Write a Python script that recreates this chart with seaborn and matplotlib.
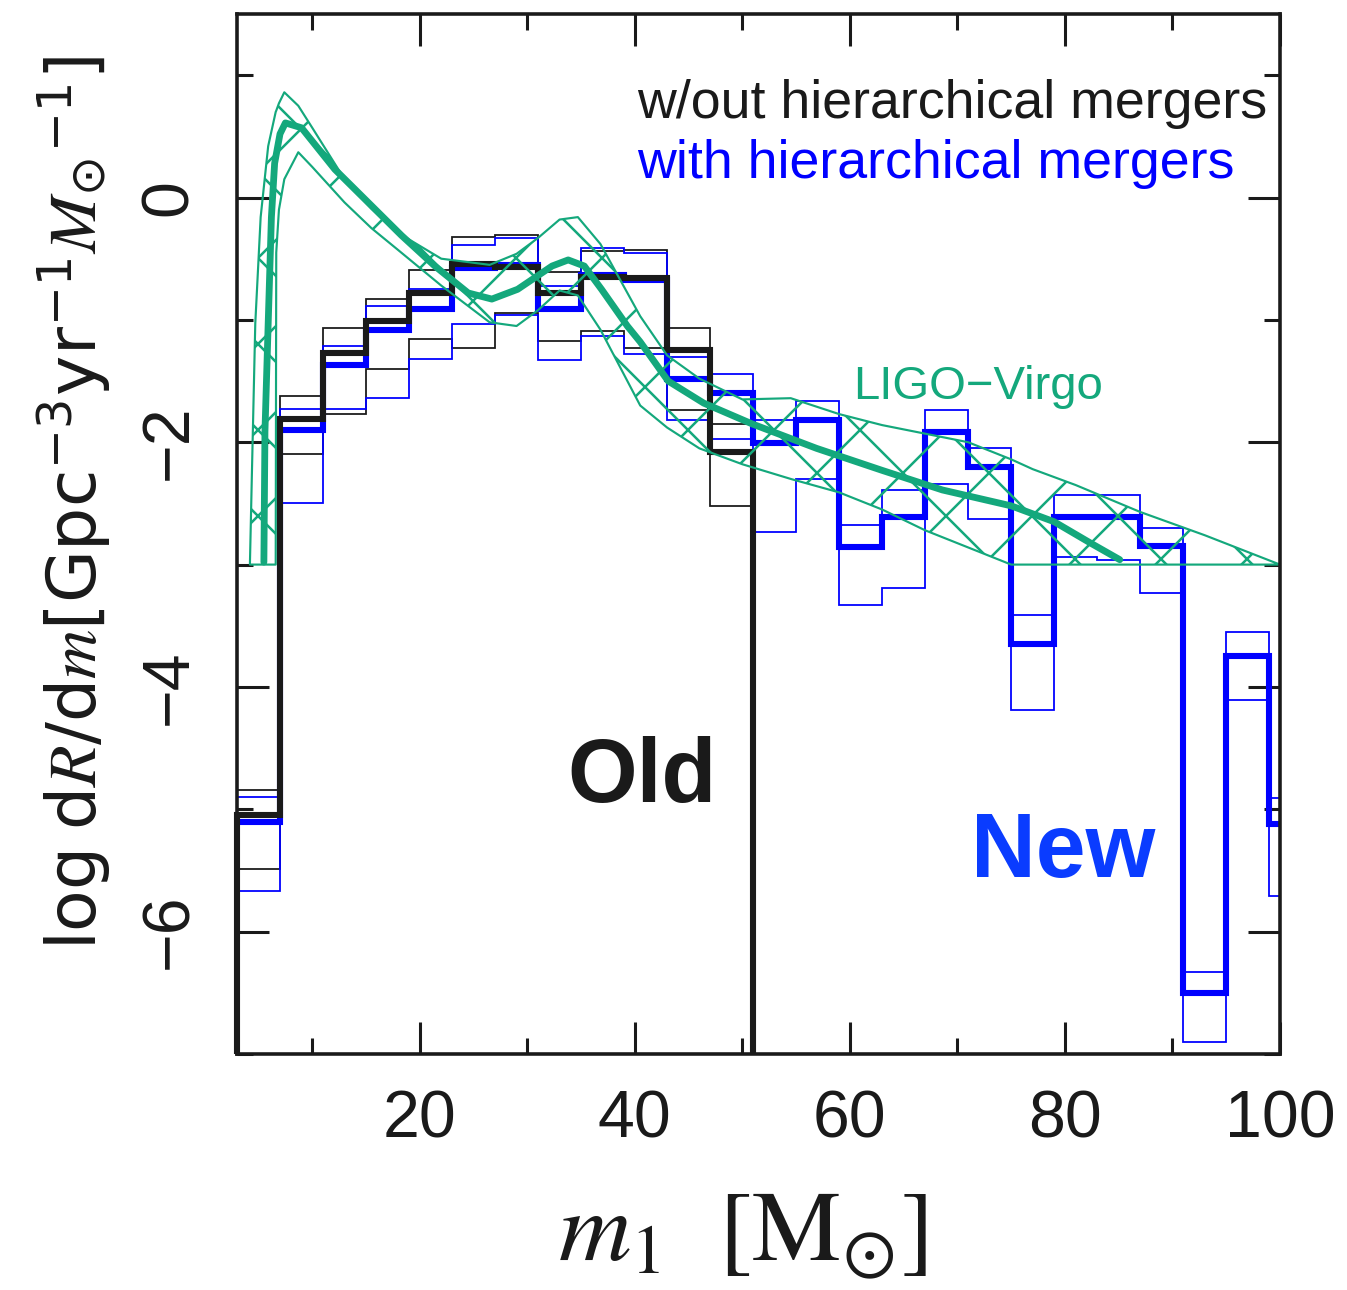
import matplotlib
matplotlib.use("Agg")
import matplotlib.pyplot as plt
import seaborn as sns
import pandas as pd
from matplotlib.ticker import MultipleLocator

# ---------------- data ----------------
bin_edges = [3, 7, 11, 15, 19, 23, 27, 31, 35, 39, 43, 47, 51, 55, 59, 63, 67,
             71, 75, 79, 83, 87, 91, 95, 99, 100]
old_edges = bin_edges[:13]

# without hierarchical mergers (black)
old_mid = [-5.05, -1.81, -1.27, -1.01, -0.78, -0.54, -0.57, -0.78, -0.65, -0.66, -1.25, -2.08]
old_hi = [-4.84, -1.62, -1.07, -0.83, -0.59, -0.32, -0.31, -0.61, -0.44, -0.43, -1.07, -1.85]
old_lo = [-5.49, -2.10, -1.77, -1.40, -1.16, -1.23, -0.94, -1.17, -1.09, -1.23, -1.74, -2.52]

# with hierarchical mergers (blue)
new_mid = [-5.10, -1.90, -1.37, -1.08, -0.91, -0.58, -0.55, -0.91, -0.63, -0.67, -1.48, -1.60,
           -2.01, -1.82, -2.86, -2.61, -1.92, -2.20, -3.65, -2.61, -2.61, -2.85, -6.50, -3.75, -5.12]
new_hi = [-4.90, -1.73, -1.21, -0.89, -0.75, -0.39, -0.33, -0.72, -0.41, -0.45, -1.30, -1.44,
          -1.82, -1.66, -2.68, -2.39, -1.74, -2.05, -3.41, -2.43, -2.43, -2.70, -6.33, -3.55, -4.91]
new_lo = [-5.67, -2.50, -1.73, -1.64, -1.32, -1.03, -0.96, -1.33, -1.13, -1.28, -1.82, -1.97,
          -2.73, -2.30, -3.33, -3.19, -2.34, -2.63, -4.19, -2.94, -2.96, -3.23, -6.90, -4.11, -5.71]

# LIGO-Virgo median curve
lv_m = [5.5, 5.6, 5.9, 6.2, 6.5, 7.0, 7.5, 9.0, 12.1, 15.2, 18.3, 21.4, 24.5, 26.7, 29.1,
        32.3, 33.8, 35.3, 36.9, 39.3, 40.5, 43.1, 46.4, 50.9, 56.9, 63.0, 68.6, 75.0, 79.0,
        82.3, 85.1]
lv_med = [-2.98, -1.91, -1.03, -0.16, 0.28, 0.52, 0.61, 0.57, 0.23, -0.04, -0.31, -0.56,
          -0.78, -0.83, -0.75, -0.56, -0.51, -0.56, -0.75, -1.05, -1.18, -1.50, -1.68, -1.85,
          -2.05, -2.23, -2.39, -2.52, -2.65, -2.82, -2.96]

# LIGO-Virgo credible band
band_m = [4.2, 4.4, 4.7, 5.2, 5.9, 6.6, 6.65, 6.9, 7.4, 8.7, 10.0, 13.0, 15.5, 18.0, 22.0,
          26.5, 29.0, 31.0, 33.0, 34.7, 36.8, 40.5, 43.0, 46.0, 50.0, 54.5, 59.0, 63.0, 67.0,
          71.0, 75.0, 77.0, 81.0, 87.0, 93.0, 100.0]
band_hi = [-3.0, -2.2, -1.03, -0.16, 0.42, 0.70, 0.71, 0.77, 0.86, 0.75, 0.57, 0.15, -0.09,
           -0.29, -0.50, -0.55, -0.46, -0.33, -0.18, -0.16, -0.38, -0.97, -1.29, -1.48, -1.65,
           -1.64, -1.77, -1.86, -1.93, -2.00, -2.14, -2.22, -2.35, -2.57, -2.76, -3.0]
band_lo = [-3.0, -3.0, -3.0, -3.0, -3.0, -3.0, -0.45, -0.10, 0.15, 0.37, 0.25, -0.04, -0.25,
           -0.43, -0.72, -1.02, -1.05, -0.92, -0.76, -0.80, -1.08, -1.70, -1.88, -2.05, -2.18,
           -2.30, -2.41, -2.55, -2.72, -2.86, -3.0, -3.0, -3.0, -3.0, -3.0, -3.0]

GREEN = "#14a87c"
BLUE = "#0000ff"
NEWBLUE = "#0a3cff"

# ---------------- style ----------------
sns.set_theme(style="ticks")
plt.rcParams["font.family"] = ["Liberation Sans", "DejaVu Sans"]
plt.rcParams["hatch.linewidth"] = 0.7
plt.rcParams["hatch.color"] = GREEN
plt.rcParams["mathtext.fontset"] = "custom"
plt.rcParams["mathtext.rm"] = "DejaVu Sans"
plt.rcParams["mathtext.it"] = "STIXGeneral:italic"
plt.rcParams["mathtext.bf"] = "DejaVu Sans:bold"
plt.rcParams["axes.unicode_minus"] = True

DPI = 258
W, H = 1347, 1290
fig = plt.figure(figsize=(W / DPI, H / DPI), dpi=DPI)
fig.patch.set_facecolor("white")
ax = fig.add_axes([237 / W, 1 - 1054 / H, (1280 - 237) / W, (1054 - 14) / H])
ax.set_facecolor("white")

# thin (range) histograms
ax.stairs(old_hi, old_edges, baseline=None, color="k", linewidth=0.5, zorder=2)
ax.stairs(old_lo, old_edges, baseline=None, color="k", linewidth=0.5, zorder=2)
ax.stairs(new_hi, bin_edges, baseline=None, color=BLUE, linewidth=0.5, zorder=2)
ax.stairs(new_lo, bin_edges, baseline=None, color=BLUE, linewidth=0.5, zorder=2)

# thick histograms
ax.stairs(new_mid, bin_edges, baseline=None, color=BLUE, linewidth=1.7, zorder=3)
ax.stairs(old_mid, old_edges, baseline=-7, color="k", linewidth=1.7, zorder=4, clip_on=False)

# LIGO-Virgo band + median
ax.fill_between(band_m, band_lo, band_hi, facecolor="none", edgecolor=GREEN,
                hatch="x", linewidth=0.6, zorder=5)
lv_df = pd.DataFrame({"m": lv_m, "v": lv_med})
sns.lineplot(data=lv_df, x="m", y="v", color=GREEN, linewidth=1.9, ax=ax,
             sort=False, estimator=None, zorder=6)

# ---------------- axes ----------------
ax.set_xlim(3, 100)
ax.set_ylim(-7, 1.5)
ax.xaxis.set_major_locator(MultipleLocator(20))
ax.xaxis.set_minor_locator(MultipleLocator(10))
ax.yaxis.set_major_locator(MultipleLocator(2))
ax.yaxis.set_minor_locator(MultipleLocator(1))
ax.tick_params(which="both", direction="in", top=True, right=True, width=0.85, color="k")
ax.tick_params(which="major", length=9)
ax.tick_params(which="minor", length=4.5)
ax.tick_params(axis="x", which="major", labelsize=18.5, pad=10, labelcolor="k")
ax.tick_params(axis="y", which="major", labelsize=18.5, pad=10, labelrotation=90, labelcolor="k")
plt.setp(ax.get_yticklabels(), va="center")
for s in ax.spines.values():
    s.set_linewidth(1.0)
    s.set_color("k")
    s.set_zorder(7)

ax.set_xlabel(r"$m_1\ \ [\mathrm{M}_{\odot}]$", fontsize=28, math_fontfamily="stix", color="k")
ax.xaxis.set_label_coords(0.485, -0.128)
ax.set_ylabel(r"$\mathrm{log\ d}R\mathrm{/d}m\mathrm{[Gpc}^{-3}\mathrm{yr}^{-1}M_{\odot}{}^{-1}\mathrm{]}$",
              fontsize=19, color="k")
ax.yaxis.set_label_coords(-0.119, 0.53)

# ---------------- annotations ----------------
ax.text(40.2, 0.65, "w/out hierarchical mergers", fontsize=15, color="k",
        ha="left", va="baseline", zorder=8)
ax.text(40.2, 0.16, "with hierarchical mergers", fontsize=15, color=BLUE,
        ha="left", va="baseline", zorder=8)
ax.text(60.3, -1.65, "LIGO\u2212Virgo", fontsize=13.2, color=GREEN,
        ha="left", va="baseline", zorder=8)
ax.text(33.7, -4.94, "Old", fontsize=25, fontweight="bold", color="k",
        ha="left", va="baseline", zorder=8)
ax.text(71.3, -5.55, "New", fontsize=25, fontweight="bold", color=NEWBLUE,
        ha="left", va="baseline", zorder=8)

fig.savefig("out.png", dpi=DPI, facecolor="white")
